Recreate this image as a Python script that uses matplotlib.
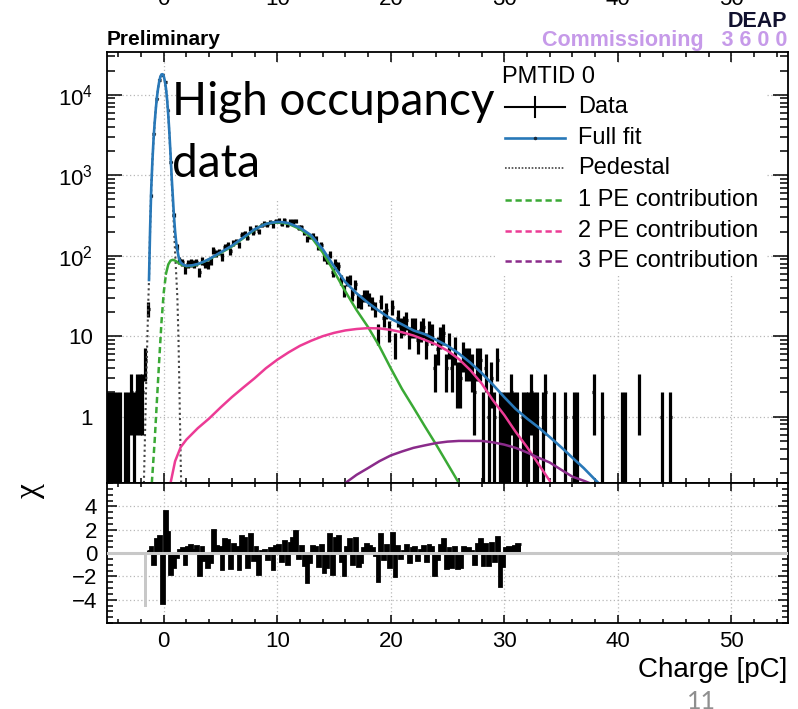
import matplotlib
matplotlib.use("Agg")
import matplotlib.pyplot as plt
import matplotlib.transforms as mtransforms
from matplotlib.patches import Rectangle
from matplotlib.ticker import (FixedLocator, FixedFormatter, LogLocator,
                               MultipleLocator, NullFormatter)
import numpy as np

plt.rcParams["font.family"] = ["Liberation Sans", "DejaVu Sans"]
plt.rcParams["mathtext.fontset"] = "custom"
plt.rcParams["mathtext.rm"] = "Liberation Sans"

# ---------------------------------------------------------------- data
bin_width = 0.25
hist_start = -5.0

# charge histogram counts, 0.25 pC bins from -5 to 46 pC
counts = (
    [1, 1, 1, 1, 1, 0, 1, 1, 2, 1, 2, 2, 2, 5]
    + [22, 560, 3300, 8900, 15400, 17500, 14500, 6400, 1450, 320, 130, 88]
    + [83, 68, 79, 81, 79, 83, 63, 87, 79, 78, 85, 117, 108, 112, 97, 130, 135,
       114, 146, 151, 137, 182, 190, 168, 217, 197, 225, 201, 240, 251, 245,
       264, 238, 273]
    + [274, 251, 275, 242, 266, 266, 268, 224, 228, 194, 161, 173, 180, 164,
       130, 136, 97, 89, 103, 62, 81, 74, 51, 37, 49, 50, 33, 44, 28, 27, 32,
       32, 29, 26, 22, 11, 27, 17, 21, 12]
    + [23, 8, 17, 13, 14, 16, 10, 13, 13, 9, 12, 13, 8, 12, 11, 4, 7, 10, 11, 4,
       8, 4, 7, 3, 3, 6, 5, 5, 4, 2, 5, 5, 1, 4, 1, 3, 1, 5, 1, 1]
    + [1, 1, 2, 1, 1, 0, 1, 1, 1, 2, 1, 1, 0, 1, 2, 0,
       0, 1, 0, 0, 0, 1, 0, 0, 1, 1, 0, 0, 0, 0, 0, 2,
       0, 0, 1, 0, 0, 0, 0, 0, 0, 1, 1, 0, 0, 0, 0, 2,
       0, 0, 0, 0, 0, 0, 0, 1, 0, 0, 1, 0, 0, 0, 0, 0]
)

# residuals (chi) for the fitted bins, 0.25 pC bins from -1.5 to 31.5 pC
resid_start = -1.5
residuals = [
    0.2, 0.5, -0.9, 1.2, 1.5, -4.3, 3.6, 1.8, -1.8, -1.2,
    -0.3, 0.3, 0.4, -0.9, 0.5, 0.7, 0.3, 0.6, -1.9, 0.5,
    -0.6, -1.2, -0.8, 2.0, 0.6, 0.5, -1.4, 1.2, 1.1, -1.3,
    0.8, 0.5, -1.4, 1.5, 1.3, -1.2, 1.6, -0.6, 0.5, -1.8,
    0.2, 0.3, -0.5, 0.4, -1.4, 0.6, 0.7, -0.7, 1.0, -0.9,
    0.9, 1.3, 1.9, -0.4, 0.6, -1.0, -2.5, -0.8, 0.6, 0.5,
    -1.1, 0.7, -1.6, -1.2, 1.6, -1.8, 1.3, 1.5, -0.7, -1.9,
    0.5, 1.2, -0.9, 1.3, -1.1, -0.8, 0.4, 0.8, 0.6, 0.4,
    -0.2, -2.4, 1.6, -0.5, 0.7, -1.2, 1.7, -2.0, 0.6, -0.4,
    0.2, 0.7, -0.8, 0.4, 0.5, -0.6, 0.3, 0.6, -0.7, 0.7,
    0.5, -1.9, -0.5, 0.7, 1.2, -1.3, 0.4, -1.2, 0.5, -1.3,
    -1.2, 0.5, 0.3, 0.4, 0.2, -0.9, 0.8, 1.2, -1.0, 0.8,
    -1.0, 0.9, -0.7, 1.4, -2.8, -1.1, 0.4, 0.5, 0.5, 0.6,
    0.8, 0.8,
]
# bin left out of the fit (drawn in grey)
excluded_edges = [-1.75, -1.5]
excluded_resid = [-4.6]

# fit components
pedestal_x = [-1.75, -1.65, -1.55, -1.45, -1.35, -1.3, -1.2, -1.1, -1.0, -0.9,
              -0.8, -0.7, -0.6, -0.5, -0.4, -0.3, -0.2, -0.1, 0.0, 0.1, 0.2,
              0.3, 0.4, 0.5, 0.6, 0.7, 0.8, 0.9, 1.0, 1.1, 1.2, 1.3, 1.4, 1.5,
              1.55]
pedestal_y = [0.15, 0.6, 2.5, 9, 30, 50, 220, 700, 1500, 2800, 4500, 6700,
              9300, 12000, 14600, 16700, 17900, 18000, 17000, 14800, 11800,
              8500, 5500, 3200, 1700, 850, 450, 220, 110, 58, 30, 9, 1.5, 0.25,
              0.12]

pe1_x = [-1.05, -0.8, -0.6, -0.4, -0.2, 0.0, 0.2, 0.4, 0.6, 0.8, 1.0, 1.5,
         2.0, 2.5, 3.0, 4.0, 5.0, 6.0, 7.0, 8.0, 8.5, 9.0, 9.5, 10.0, 10.5,
         11.0, 12.0, 13.0, 14.0, 15.0, 16.0, 17.0, 18.0, 19.0, 20.0, 21.0,
         22.0, 23.0, 24.0, 25.0, 26.0]
pe1_y = [0.15, 0.5, 1.6, 5, 15, 35, 60, 78, 87, 89, 87, 78, 74, 75, 78, 90,
         108, 130, 165, 210, 232, 248, 256, 258, 255, 248, 215, 170, 110, 64,
         36, 21, 13, 7.5, 4.0, 2.2, 1.3, 0.76, 0.45, 0.26, 0.15]

pe2_x = [0.6, 1.0, 1.5, 2.0, 3.0, 4.0, 5.0, 6.0, 7.0, 8.0, 9.0, 10.0, 11.0,
         12.0, 13.0, 14.0, 15.0, 16.0, 17.0, 18.0, 19.0, 20.0, 21.0, 22.0,
         23.0, 24.0, 25.0, 26.0, 27.0, 28.0, 29.0, 30.0, 31.0, 32.0, 33.0,
         34.0]
pe2_y = [0.15, 0.28, 0.42, 0.52, 0.72, 0.95, 1.3, 1.75, 2.3, 3.0, 4.0, 5.1,
         6.3, 7.6, 8.8, 10.0, 11.0, 11.8, 12.3, 12.6, 12.5, 12.0, 11.2, 10.2,
         9.0, 7.9, 6.6, 5.2, 3.8, 2.6, 1.6, 1.05, 0.65, 0.42, 0.26, 0.16]

pe3_x = [16.0, 17.0, 18.0, 19.0, 20.0, 21.0, 22.0, 23.0, 24.0, 25.0, 26.0,
         27.0, 28.0, 29.0, 30.0, 31.0, 32.0, 33.0, 34.0, 35.0, 36.0, 37.0,
         37.5]
pe3_y = [0.15, 0.19, 0.23, 0.28, 0.33, 0.37, 0.41, 0.44, 0.47, 0.49, 0.5, 0.5,
         0.5, 0.48, 0.45, 0.41, 0.36, 0.31, 0.27, 0.22, 0.18, 0.16, 0.15]

fit_x = [-1.3, -1.2, -1.1, -1.0, -0.9, -0.8, -0.7, -0.6, -0.5, -0.4, -0.3,
         -0.2, -0.1, 0.0, 0.1, 0.2, 0.3, 0.4, 0.5, 0.6, 0.7, 0.8, 0.9, 1.0,
         1.1, 1.2, 1.3, 1.4, 1.5, 1.75, 2.0, 2.5, 3.0, 3.5, 4.0, 5.0, 6.0,
         7.0, 8.0, 9.0, 9.5, 10.0, 10.5, 11.0, 12.0, 13.0, 14.0, 15.0, 16.0,
         17.0, 18.0, 19.0, 20.0, 21.0, 22.0, 23.0, 24.0, 25.0, 26.0, 27.0,
         28.0, 29.0, 30.0, 31.0, 32.0, 33.0, 34.0, 35.0, 36.0, 37.0, 38.0,
         38.3]
fit_y = [50, 220, 700, 1500, 2800, 4500, 6700, 9300, 12000, 14600, 16700,
         17900, 18000, 17000, 14800, 11900, 8600, 5600, 3300, 1800, 940, 540,
         310, 200, 145, 118, 98, 88, 82, 77, 75, 76, 79, 84, 91, 110, 133, 168,
         213, 248, 258, 263, 261, 254, 223, 179, 121, 74, 47, 34, 26, 20.5,
         16.5, 14, 11.8, 10.6, 9.0, 7.6, 6.1, 4.7, 3.5, 2.5, 1.75, 1.25, 0.95,
         0.74, 0.56, 0.42, 0.31, 0.23, 0.165, 0.15]

legend_labels = ["Data", "Full fit", "Pedestal", "1 PE contribution",
                 "2 PE contribution", "3 PE contribution"]
x_tick_values = [0, 10, 20, 30, 40, 50]
y_tick_values = [1, 10, 100, 1000, 10000]
y_tick_labels = ["1", "10", r"$\mathregular{10^{2}}$", r"$\mathregular{10^{3}}$",
                 r"$\mathregular{10^{4}}$"]

c_fit = "#2878b8"
c_ped = "#444444"
c_pe1 = "#3aa935"
c_pe2 = "#ec3b95"
c_pe3 = "#8a2b8a"
c_grid = "#b8b8b8"

# ---------------------------------------------------------------- figure
W, H = 798, 709
fig = plt.figure(figsize=(W / 100, H / 100), dpi=100)
ax1 = fig.add_axes([107 / W, 1 - 483 / H, 681 / W, 431 / H])
ax2 = fig.add_axes([107 / W, 1 - 623 / H, 681 / W, 140 / H], sharex=ax1)

# upper panel: histogram and fit
counts = np.asarray(counts, dtype=float)
edges = hist_start + bin_width * np.arange(len(counts) + 1)
centers = edges[:-1] + bin_width / 2
filled = counts > 0

ax1.set_yscale("log")
ax1.errorbar(centers[filled], counts[filled], yerr=np.sqrt(counts[filled]),
             xerr=bin_width / 2, fmt="none", ecolor="black", elinewidth=2.3,
             capsize=0, zorder=2)

ax1.plot(pedestal_x, pedestal_y, color=c_ped, lw=1.5, ls=(0, (1, 1.5)), zorder=3)
ax1.plot(pe1_x[:7], pe1_y[:7], color=c_pe1, lw=1.8, ls=(0, (2.5, 1.5)), zorder=3)
ax1.plot(pe1_x[6:], pe1_y[6:], color=c_pe1, lw=1.8, zorder=3)
ax1.plot(pe2_x, pe2_y, color=c_pe2, lw=1.8, zorder=3)
ax1.plot(pe3_x, pe3_y, color=c_pe3, lw=1.8, zorder=3)
ax1.plot(fit_x, fit_y, color=c_fit, lw=1.9, zorder=4)

ax1.set_xlim(-5, 55)
ax1.set_ylim(0.15, 3.4e4)
ax1.xaxis.set_major_locator(FixedLocator(x_tick_values))
ax1.xaxis.set_minor_locator(MultipleLocator(2))
ax1.yaxis.set_major_locator(FixedLocator(y_tick_values))
ax1.yaxis.set_major_formatter(FixedFormatter(y_tick_labels))
ax1.yaxis.set_minor_locator(LogLocator(base=10, subs=np.arange(2, 10), numticks=30))
ax1.yaxis.set_minor_formatter(NullFormatter())
ax1.grid(True, which="major", color=c_grid, ls=(0, (1, 2)), lw=0.9)
ax1.set_axisbelow(True)
ax1.tick_params(which="both", direction="in", top=True, right=True,
                labelbottom=False, width=1.1)
ax1.tick_params(axis="y", which="major", length=11, labelsize=16, pad=10)
ax1.tick_params(axis="y", which="minor", length=6)
ax1.tick_params(axis="x", which="major", length=7.5)
ax1.tick_params(axis="x", which="minor", length=3.8)

# lower panel: residuals
r_edges = resid_start + bin_width * np.arange(len(residuals) + 1)
ax2.stairs(excluded_resid, excluded_edges, baseline=0, fill=True,
           color="#c8c8c8", zorder=2)
ax2.stairs(residuals, r_edges, baseline=0, fill=True, color="black", zorder=2)
ax2.stairs(residuals, r_edges, baseline=None, color="black", lw=2.0, zorder=2)
ax2.axhline(0, color="#c8c8c8", lw=2.2, zorder=3)

ax2.set_ylim(-6, 6)
ax2.yaxis.set_major_locator(FixedLocator([-4, -2, 0, 2, 4]))
ax2.yaxis.set_minor_locator(MultipleLocator(0.5))
ax2.grid(True, which="major", color=c_grid, ls=(0, (1, 2)), lw=0.9)
ax2.set_axisbelow(True)
ax2.tick_params(which="both", direction="in", top=True, right=True, width=1.1,
                labelsize=16)
ax2.tick_params(axis="y", which="major", length=7.5, pad=7)
ax2.tick_params(axis="y", which="minor", length=4)
ax2.tick_params(axis="x", which="major", length=6, pad=6)
ax2.tick_params(axis="x", which="minor", length=3)

for ax in (ax1, ax2):
    for sp in ax.spines.values():
        sp.set_linewidth(1.3)

# ---------------------------------------------------------------- texts
fig.text(787 / W, 1 - 670 / H, "Charge [pC]", ha="right", va="center", fontsize=20)
fig.text(30 / W, 1 - 491 / H, "χ", rotation=90, ha="center", va="center",
         fontsize=24, family="Liberation Serif")
fig.text(107 / W, 1 - 45 / H, "Preliminary", ha="left", va="baseline",
         fontsize=15, fontweight="bold")
fig.text(787 / W, 1 - 27 / H, "DEAP", ha="right", va="baseline",
         fontsize=15.5, fontweight="bold", color="#10102e")
fig.text(787 / W, 1 - 46 / H, "Commissioning   3 6 0 0", ha="right",
         va="baseline", fontsize=15.5, fontweight="bold", color="#c69ae9")

# tick labels of the slide's previous plot, cut by the top edge
top_trans = mtransforms.blended_transform_factory(ax2.transData, fig.transFigure)
for v in x_tick_values:
    fig.text(v, 1 - 5 / H, str(v), transform=top_trans, ha="center",
             va="baseline", fontsize=16)

# overlay in pixel coordinates for the text box and the legend
ov = fig.add_axes([0, 0, 1, 1], zorder=10)
ov.set_xlim(0, W)
ov.set_ylim(H, 0)
ov.axis("off")
ov.patch.set_alpha(0)

ov.add_patch(Rectangle((176, 63), 319, 137, facecolor="white", edgecolor="none"))
ov.add_patch(Rectangle((495, 63), 272, 213, facecolor="white", edgecolor="none"))

ov.text(172, 115, "High occupancy", fontsize=33, family="Lato", va="baseline")
ov.text(172, 177, "data", fontsize=33, family="Lato", va="baseline")
ov.text(701, 690, "11", fontsize=18, family="Lato", color="#8f8f8f",
        ha="center", va="top")

ov.text(502, 77, "PMTID 0", fontsize=17, va="center")
rows = [107, 138, 168, 200, 231, 261]
ov.plot([505, 565], [rows[0]] * 2, color="black", lw=1.5)
ov.plot([535, 535], [rows[0] - 10, rows[0] + 10], color="black", lw=1.5)
ov.plot([505, 565], [rows[1]] * 2, color=c_fit, lw=1.9)
ov.plot([535], [rows[1]], marker="o", ms=1.5, color="#1a2a3a")
ov.plot([505, 565], [rows[2]] * 2, color=c_ped, lw=1.2, ls=(0, (1, 1)))
for y, c in zip(rows[3:], [c_pe1, c_pe2, c_pe3]):
    ov.plot([505, 565], [y, y], color=c, lw=1.8, ls=(0, (2.5, 1.5)))
for y, lab in zip(rows, legend_labels):
    ov.text(578, y, lab, fontsize=17, va="center")

fig.savefig("out.png", dpi=100)
